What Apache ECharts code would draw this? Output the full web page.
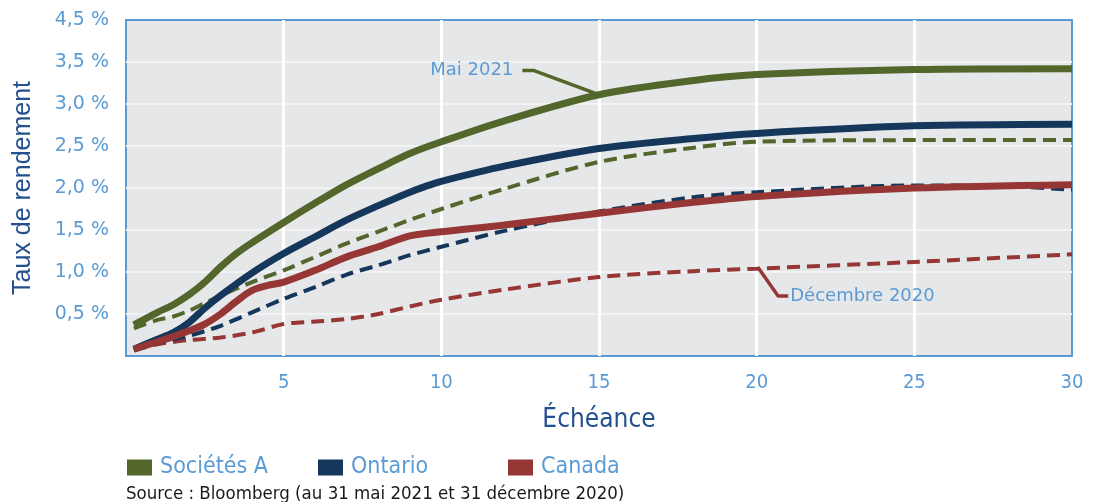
<!DOCTYPE html>
<html>
<head>
<meta charset="utf-8">
<script src="https://cdn.jsdelivr.net/npm/echarts@6/dist/echarts.min.js"></script>
<style>html,body{margin:0;padding:0;background:#fff}#c{width:1101px;height:502px}</style>
</head>
<body>
<div id="c"></div>
<script>
// ---- Data (maturity in years, yield in %) ----
const xTickValues = [5, 10, 15, 20, 25, 30];
const yTickValues = [0.5, 1, 1.5, 2, 2.5, 3, 3.5, 4];
const yTickLabels = ['0,5 %', '1,0 %', '1,5 %', '2,0 %', '2,5 %', '3,0 %', '3,5 %', '4,5 %'];

const societesMai = [[0.25,0.37],[1,0.52],[1.5,0.61],[2,0.73],[2.5,0.88],[3,1.06],[3.5,1.22],[4,1.35],[5,1.59],[6,1.82],[7,2.04],[8,2.23],[9,2.41],[10,2.55],[12,2.80],[15,3.11],[18,3.28],[20,3.35],[25,3.41],[30,3.42]];
const ontarioMai = [[0.25,0.08],[1,0.20],[1.5,0.28],[2,0.40],[2.5,0.57],[3,0.72],[4,0.99],[5,1.22],[6,1.42],[7,1.62],[8,1.79],[9,1.95],[9.5,2.02],[10,2.08],[12,2.26],[15,2.47],[18,2.59],[20,2.65],[25,2.74],[30,2.76]];
const canadaMai = [[0.25,0.08],[1,0.17],[1.5,0.23],[2,0.30],[2.5,0.38],[3,0.50],[3.5,0.65],[4,0.78],[4.5,0.84],[5,0.88],[6,1.02],[7,1.18],[8,1.30],[9,1.43],[10,1.48],[12,1.56],[15,1.70],[18,1.83],[20,1.90],[25,2.00],[30,2.04]];
const societesDec = [[0.25,0.33],[1,0.43],[1.5,0.47],[2,0.54],[2.5,0.63],[3,0.72],[4,0.88],[5,1.02],[6,1.18],[7,1.34],[8,1.48],[9,1.62],[10,1.75],[12,1.99],[15,2.31],[18,2.48],[20,2.55],[25,2.57],[30,2.57]];
const ontarioDec = [[0.25,0.07],[1,0.15],[2,0.24],[3,0.36],[4,0.52],[5,0.68],[6,0.82],[7,0.97],[8,1.08],[9,1.20],[10,1.30],[12,1.49],[15,1.72],[18,1.89],[20,1.95],[25,2.03],[28,2.02],[30,1.98]];
const canadaDec = [[0.25,0.07],[1,0.14],[2,0.19],[3,0.22],[4,0.28],[5,0.38],[6,0.41],[7,0.44],[8,0.50],[9,0.59],[10,0.67],[12,0.79],[15,0.94],[18,1.01],[20,1.04],[25,1.12],[30,1.21]];

// annotation leader lines (data units)
const maiLeader = [[12.57,3.40],[12.92,3.40],[14.93,3.12]];
const decLeader = [[20.05,1.05],[20.68,0.715],[21.0,0.715]];

const GREEN = '#53662c', NAVY = '#15375c', RED = '#963735';
const LBLUE = '#5b9bd5', DBLUE = '#24508f';
const narrow = "'DejaVu Sans Condensed', 'Liberation Sans Narrow', sans-serif";
const wide = "'DejaVu Sans', Verdana, sans-serif";

function solid(name, data, color) {
  return { name, type: 'line', data, smooth: 0.3, symbol: 'none', z: 4,
    lineStyle: { color, width: 7, cap: 'butt' }, itemStyle: { color } };
}
function dashed(name, data, color) {
  return { name, type: 'line', data, smooth: 0.3, symbol: 'none', z: 3,
    lineStyle: { color, width: 4, type: [13, 7], cap: 'butt' }, itemStyle: { color } };
}
function legend(name, left) {
  return { data: [name], left, top: 451, icon: 'rect', itemWidth: 25, itemHeight: 16,
    selectedMode: false,
    textStyle: { color: LBLUE, fontSize: 23, fontFamily: narrow, padding: [0, 0, 0, 3] } };
}

const chart = echarts.init(document.getElementById('c'), null, { renderer: 'canvas' });
chart.setOption({
  animation: false,
  backgroundColor: '#ffffff',
  title: { text: 'Source : Bloomberg (au 31 mai 2021 et 31 décembre 2020)', left: 121, top: 480,
    textStyle: { color: '#1a1a1a', fontSize: 18.5, fontWeight: 'normal', fontFamily: narrow } },
  legend: [legend('Sociétés A', 122), legend('Ontario', 313), legend('Canada', 503)],
  grid: { left: 126, right: 29, top: 20, bottom: 146, show: true,
    backgroundColor: '#e6e7e9', borderColor: LBLUE, borderWidth: 2 },
  xAxis: {
    type: 'value', min: 0, max: 30,
    name: 'Échéance', nameLocation: 'middle', nameGap: 51,
    nameTextStyle: { color: DBLUE, fontSize: 26, fontFamily: narrow },
    axisLine: { show: false }, axisTick: { show: false, customValues: [5, 10, 15, 20, 25] },
    axisLabel: { customValues: xTickValues, color: LBLUE, fontSize: 20, fontFamily: narrow, margin: 17 },
    splitLine: { show: true, lineStyle: { color: '#ffffff', width: 3 } }
  },
  yAxis: {
    type: 'value', min: 0, max: 4,
    name: 'Taux de rendement', nameLocation: 'middle', nameGap: 90,
    nameTextStyle: { color: DBLUE, fontSize: 25, fontFamily: "'Liberation Sans', Arial, sans-serif" },
    axisLine: { show: false }, axisTick: { show: false, customValues: [0.5, 1, 1.5, 2, 2.5, 3, 3.5] },
    axisLabel: { customValues: yTickValues, color: LBLUE, fontSize: 19, fontFamily: wide, margin: 17,
      formatter: v => { const i = yTickValues.indexOf(v); return i >= 0 ? yTickLabels[i] : ''; } },
    splitLine: { show: true, lineStyle: { color: '#f3f3f5', width: 2 } }
  },
  series: [
    dashed('Canada déc. 2020', canadaDec, RED),
    dashed('Ontario déc. 2020', ontarioDec, NAVY),
    dashed('Sociétés A déc. 2020', societesDec, GREEN),
    solid('Ontario', ontarioMai, NAVY),
    solid('Sociétés A', societesMai, GREEN),
    solid('Canada', canadaMai, RED),
    { name: 'annotMai', type: 'line', symbol: 'none', z: 5, silent: true,
      lineStyle: { color: GREEN, width: 3.5 },
      data: maiLeader.map((p, i) => i === 0 ? { value: p, symbol: 'circle', symbolSize: 0.1,
        label: { show: true, position: 'left', distance: 9, formatter: 'Mai 2021', color: LBLUE, fontSize: 18, fontFamily: wide } } : p) },
    { name: 'annotDec', type: 'line', symbol: 'none', z: 5, silent: true,
      lineStyle: { color: RED, width: 3.5 },
      data: decLeader.map((p, i) => i === decLeader.length - 1 ? { value: p, symbol: 'circle', symbolSize: 0.1,
        label: { show: true, position: 'right', distance: 2, formatter: 'Décembre 2020', color: LBLUE, fontSize: 18, fontFamily: wide } } : p) }
  ]
});
</script>
</body>
</html>
